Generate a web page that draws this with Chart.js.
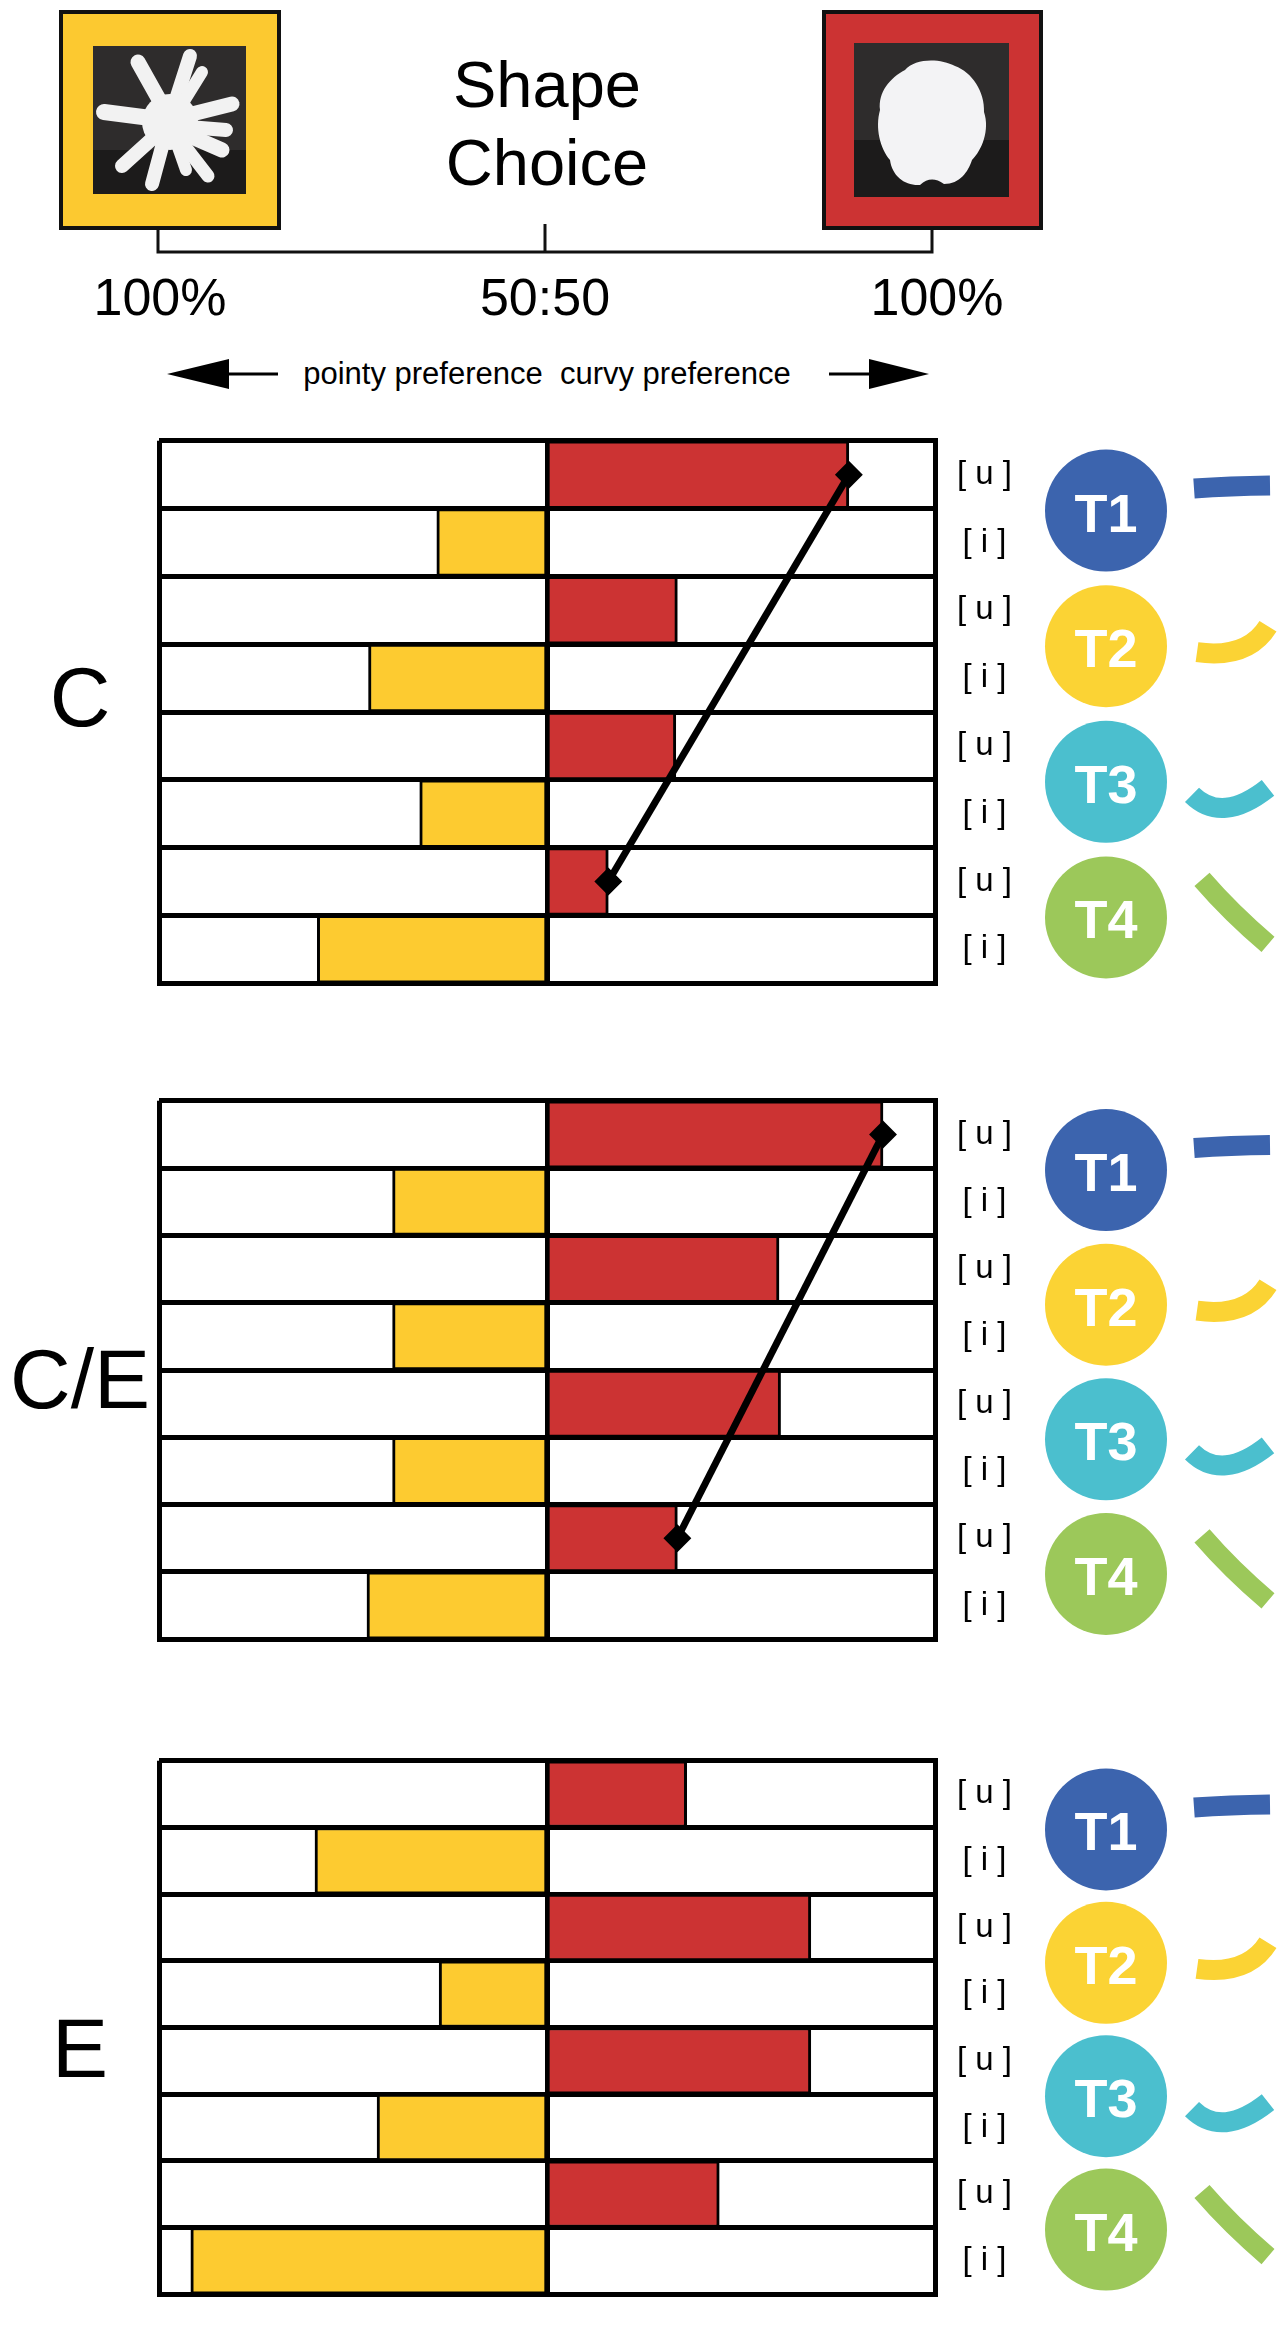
<!DOCTYPE html>
<html>
<head>
<meta charset="utf-8">
<title>Shape choice</title>
<script src="https://cdn.jsdelivr.net/npm/chart.js@4.4.1/dist/chart.umd.min.js"></script>
<style>
  html, body { margin: 0; padding: 0; background: #fff; overflow: hidden; }
  #page { position: relative; width: 1280px; height: 2337px; font-family: "Liberation Sans", Arial, sans-serif; }
  #header { position: absolute; left: 0; top: 0; }
  .panel { position: absolute; left: 0; }
</style>
</head>
<body>
<div id="page">
  <svg id="header" width="1280" height="400" xmlns="http://www.w3.org/2000/svg" font-family="Liberation Sans, Arial, sans-serif">
    <!-- pointy object -->
    <rect x="61" y="12" width="218" height="216" fill="#fcc930" stroke="#111" stroke-width="4"/>
    <rect x="93" y="46" width="153" height="148" fill="#2e2c2c"/>
    <rect x="93" y="150" width="153" height="44" fill="#1c1b1b"/>
    <g stroke="#f2f2f2" stroke-linecap="round">
      <line x1="166" y1="112" x2="138" y2="62" stroke-width="15"/>
      <line x1="172" y1="112" x2="190" y2="56" stroke-width="14"/>
      <line x1="176" y1="114" x2="202" y2="72" stroke-width="12"/>
      <line x1="166" y1="120" x2="104" y2="112" stroke-width="16"/>
      <line x1="176" y1="118" x2="232" y2="104" stroke-width="15"/>
      <line x1="176" y1="126" x2="226" y2="130" stroke-width="14"/>
      <line x1="176" y1="130" x2="222" y2="150" stroke-width="15"/>
      <line x1="164" y1="128" x2="122" y2="166" stroke-width="14"/>
      <line x1="166" y1="132" x2="152" y2="184" stroke-width="14"/>
      <line x1="174" y1="132" x2="208" y2="176" stroke-width="13"/>
      <line x1="172" y1="130" x2="186" y2="170" stroke-width="12"/>
    </g>
    <circle cx="170" cy="122" r="28" fill="#f2f2f2"/>
    <!-- curvy object -->
    <rect x="824" y="12" width="217" height="216" fill="#cc3333" stroke="#111" stroke-width="4"/>
    <rect x="854" y="43" width="155" height="154" fill="#2e2c2c"/>
    <rect x="854" y="140" width="155" height="57" fill="#1c1b1b"/>
    <path d="M905,70 C915,58 940,58 955,66 C972,72 985,92 984,112 C990,130 982,150 972,160 C968,172 960,184 944,184 C935,178 928,178 920,185 C905,186 892,176 890,160 C880,148 875,128 880,110 C878,92 890,78 905,70 Z" fill="#f3f3f5"/>
    <!-- bracket -->
    <g stroke="#111" stroke-width="3" fill="none">
      <polyline points="158,229 158,252 932,252 932,229"/>
      <line x1="545" y1="224" x2="545" y2="252"/>
    </g>
    <text x="547" y="107" font-size="65" text-anchor="middle" fill="#000">Shape</text>
    <text x="547" y="185" font-size="65" text-anchor="middle" fill="#000">Choice</text>
    <text x="160" y="315" font-size="52" text-anchor="middle" fill="#000">100%</text>
    <text x="545" y="315" font-size="52" text-anchor="middle" fill="#000">50:50</text>
    <text x="937" y="315" font-size="52" text-anchor="middle" fill="#000">100%</text>
    <!-- preference arrows -->
    <polygon points="167,374 229,359 229,389" fill="#000"/>
    <line x1="228" y1="374" x2="278" y2="374" stroke="#000" stroke-width="3"/>
    <line x1="829" y1="374" x2="870" y2="374" stroke="#000" stroke-width="3"/>
    <polygon points="929,374 869,359 869,389" fill="#000"/>
    <text x="547" y="384" font-size="31" text-anchor="middle" fill="#000" xml:space="preserve">pointy preference  curvy preference</text>
  </svg>

  <canvas id="panelC" class="panel"></canvas>
  <canvas id="panelCE" class="panel"></canvas>
  <canvas id="panelE" class="panel"></canvas>
</div>

<script>
// rows: each tongue shape with vowel [u] and [i]
const rowLabels = ['T1 [u]', 'T1 [i]', 'T2 [u]', 'T2 [i]', 'T3 [u]', 'T3 [i]', 'T4 [u]', 'T4 [i]'];
const tongueNames = ['T1', 'T2', 'T3', 'T4'];
const tongueColors = ['#3c64ae', '#fbd334', '#4bbfce', '#9cc85a'];

// % of curvy-shape choices (50 = 50:50, 100 = 100% curvy, 0 = 100% pointy)
const curvyC_u = [88.9, 66.8, 66.6, 57.9];
const curvyC_i = [35.8, 27.0, 33.6, 20.4];
const curvyCE_u = [93.3, 79.9, 80.1, 66.8];
const curvyCE_i = [30.1, 30.1, 30.1, 26.8];
const curvyE_u = [68.0, 84.0, 84.0, 72.2];
const curvyE_i = [20.1, 36.1, 28.1, 4.1];

const xTicks = [0, 50, 100];

const RED = '#cc3333';
const YELLOW = '#fdcb30';

// tongue outline sketches next to the circles (relative to circle centre)
const tongueSketch = [
    [[88, -22], [125, -24], [164, -25]],
    [[91, 6], [134, 3], [162, -20]],
    [[86, 13], [120, 26], [162, 6]],
    [[96, -38], [127, -5], [162, 27]]
];

const decorations = {
    id: 'decorations',
    afterDraw(chart, args, opts) {
        const c = chart.ctx;
        const y = chart.scales.y;
        c.save();
        // panel letter
        c.fillStyle = '#000';
        c.font = '84px "Liberation Sans", Arial, sans-serif';
        c.textAlign = 'center';
        c.textBaseline = 'alphabetic';
        c.fillText(opts.letter, 80, opts.letterBase);

        for (let k = 0; k < tongueNames.length; k++) {
            const cy = (y.getPixelForValue(2 * k) + y.getPixelForValue(2 * k + 1)) / 2 + 2;
            const cx = 1106;
            c.beginPath();
            c.arc(cx, cy, 61, 0, Math.PI * 2);
            c.fillStyle = tongueColors[k];
            c.fill();
            c.fillStyle = '#fff';
            c.font = 'bold 54px "Liberation Sans", Arial, sans-serif';
            c.fillText(tongueNames[k], cx, cy + 21);

            const p = tongueSketch[k];
            const x0 = cx + p[0][0], y0 = cy + p[0][1];
            const x2 = cx + p[2][0], y2 = cy + p[2][1];
            const qx = 2 * (cx + p[1][0]) - (x0 + x2) / 2;
            const qy = 2 * (cy + p[1][1]) - (y0 + y2) / 2;
            c.beginPath();
            c.moveTo(x0, y0);
            c.quadraticCurveTo(qx, qy, x2, y2);
            c.strokeStyle = tongueColors[k];
            c.lineWidth = 20;
            c.lineCap = 'butt';
            c.stroke();
        }
        c.restore();
    }
};

function buildPanel(canvasId, letter, panelTop, panelBottom, letterBase, uVals, iVals, trend) {
    const padTop = 40, padBottom = 10;
    const canvas = document.getElementById(canvasId);
    canvas.width = 1280;
    canvas.height = panelBottom - panelTop + padTop + padBottom;
    canvas.style.top = (panelTop - padTop) + 'px';
    canvas.style.width = '1280px';
    canvas.style.height = canvas.height + 'px';

    const curvyBars = rowLabels.map((_, r) => r % 2 === 0 ? [50, uVals[r / 2]] : null);
    const pointyBars = rowLabels.map((_, r) => r % 2 === 1 ? [iVals[(r - 1) / 2], 50] : null);

    const datasets = [
        {
            label: 'curvy choice',
            data: curvyBars,
            backgroundColor: RED,
            borderColor: '#000',
            borderWidth: 3,
            borderSkipped: false,
            grouped: false,
            barPercentage: 1,
            categoryPercentage: 1,
            order: 2
        },
        {
            label: 'pointy choice',
            data: pointyBars,
            backgroundColor: YELLOW,
            borderColor: '#000',
            borderWidth: 3,
            borderSkipped: false,
            grouped: false,
            barPercentage: 1,
            categoryPercentage: 1,
            order: 2
        }
    ];
    if (trend) {
        datasets.push({
            type: 'line',
            label: 'T1 to T4 [u]',
            indexAxis: 'y',
            data: [
                { x: uVals[0], y: rowLabels[0] },
                { x: uVals[3], y: rowLabels[6] }
            ],
            borderColor: '#000',
            borderWidth: 7,
            pointStyle: 'rectRot',
            pointRadius: 9,
            pointBackgroundColor: '#000',
            pointBorderColor: '#000',
            order: 0
        });
    }

    return new Chart(canvas.getContext('2d'), {
        type: 'bar',
        data: { labels: rowLabels, datasets },
        plugins: [decorations],
        options: {
            indexAxis: 'y',
            responsive: false,
            animation: false,
            devicePixelRatio: 1,
            layout: { padding: { left: 159, right: 245, top: padTop, bottom: padBottom } },
            plugins: {
                legend: { display: false },
                tooltip: { enabled: false },
                decorations: { letter, letterBase: letterBase - (panelTop - padTop) }
            },
            scales: {
                x: {
                    type: 'linear',
                    min: xTicks[0],
                    max: xTicks[xTicks.length - 1],
                    afterBuildTicks(scale) { scale.ticks = xTicks.map(v => ({ value: v })); },
                    ticks: { display: false },
                    grid: { color: '#000', lineWidth: 5, drawTicks: false },
                    border: { display: true, color: '#000', width: 5 }
                },
                y: {
                    type: 'category',
                    position: 'right',
                    afterFit(scale) { scale.width = 100; },
                    ticks: {
                        autoSkip: false,
                        crossAlign: 'center',
                        padding: 22,
                        color: '#000',
                        font: { family: '"Liberation Sans", Arial, sans-serif', size: 33 },
                        callback: (v, idx) => idx % 2 === 0 ? '[ u ]' : '[ i ]'
                    },
                    grid: { color: '#000', lineWidth: 5, drawTicks: false, offset: true },
                    border: { display: true, color: '#000', width: 5 }
                }
            }
        }
    });
}

buildPanel('panelC', 'C', 439, 1015, 726, curvyC_u, curvyC_i, true);
buildPanel('panelCE', 'C/E', 1099, 1671, 1408, curvyCE_u, curvyCE_i, true);
buildPanel('panelE', 'E', 1759, 2326, 2077, curvyE_u, curvyE_i, false);
</script>
</body>
</html>
